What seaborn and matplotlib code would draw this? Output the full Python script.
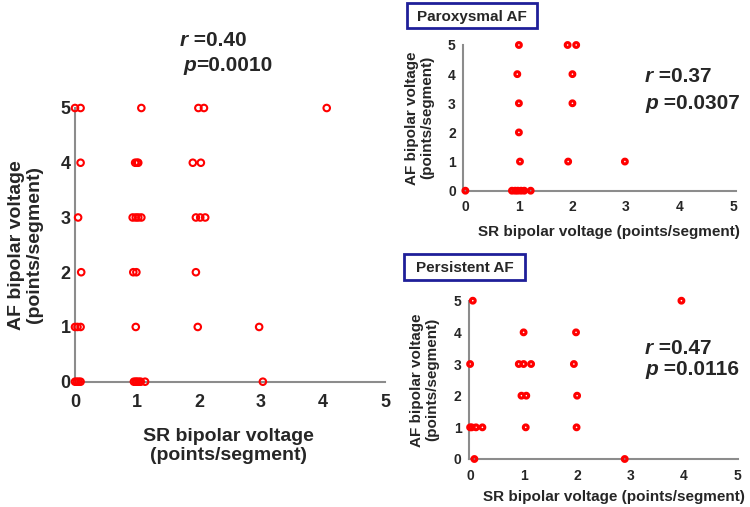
import numpy as np
import pandas as pd
import seaborn as sns
import matplotlib.pyplot as plt
from matplotlib.patches import Rectangle

# All AF patients
all_sr = [0.0, 0.09, 1.07, 1.99, 2.08, 4.06,
          0.09, 0.97, 1.0, 1.02, 1.9, 2.03,
          0.05, 0.93, 0.98, 1.02, 1.07, 1.95, 2.02, 2.1,
          0.1, 0.94, 0.99, 1.95,
          0.0, 0.04, 0.09, 0.98, 1.98, 2.97,
          0.0, 0.03, 0.06, 0.09, 0.95, 0.98, 1.0, 1.03, 1.06, 1.13, 3.03]
all_af = [5, 5, 5, 5, 5, 5,
          4, 4, 4, 4, 4, 4,
          3, 3, 3, 3, 3, 3, 3, 3,
          2, 2, 2, 2,
          1, 1, 1, 1, 1, 1,
          0, 0, 0, 0, 0, 0, 0, 0, 0, 0, 0]

# Paroxysmal AF
par_sr = [1.0, 1.91, 2.07,
          0.97, 2.0,
          1.0, 2.0,
          1.0,
          1.02, 1.92, 2.98,
          0.0, 0.87, 0.93, 0.98, 1.04, 1.1, 1.22]
par_af = [5, 5, 5,
          4, 4,
          3, 3,
          2,
          1, 1, 1,
          0, 0, 0, 0, 0, 0, 0]

# Persistent AF
per_sr = [0.05, 3.95,
          1.0, 1.98,
          0.0, 0.91, 1.0, 1.14, 1.94,
          0.96, 1.05, 2.0,
          0.0, 0.03, 0.11, 0.23, 1.04, 1.99,
          0.08, 2.89]
per_af = [5, 5,
          4, 4,
          3, 3, 3, 3, 3,
          2, 2, 2,
          1, 1, 1, 1, 1, 1,
          0, 0]

ticks = [0, 1, 2, 3, 4, 5]

sns.set_style("white")
plt.rcParams['font.family'] = ['Liberation Sans', 'DejaVu Sans']
plt.rcParams['font.weight'] = 'bold'

W, H = 750, 507
fig = plt.figure(figsize=(7.5, 5.07), dpi=100)


def px_axes(x0, x1, y_top, y_bot):
    return fig.add_axes([x0 / W, 1 - y_bot / H, (x1 - x0) / W, (y_bot - y_top) / H])


def draw(ax, sr, af, xlim, ms, ew, tsize):
    df = pd.DataFrame({'SR': sr, 'AF': af})
    sns.scatterplot(data=df, x='SR', y='AF', ax=ax, s=ms, marker='o',
                    facecolor='none', edgecolor='red', linewidth=ew,
                    clip_on=False, zorder=3)
    ax.set_xlim(*xlim)
    ax.set_ylim(0, 5)
    ax.set_xticks(ticks)
    ax.set_yticks(ticks)
    ax.tick_params(length=0, labelsize=tsize)
    for t in ax.get_xticklabels() + ax.get_yticklabels():
        t.set_fontweight('bold')
    for side in ['top', 'right']:
        ax.spines[side].set_visible(False)
    for side in ['left', 'bottom']:
        ax.spines[side].set_color('#8c8c8c')
        ax.spines[side].set_linewidth(1.5)
    ax.spines['bottom'].set_zorder(1)


def stat(x, y, letter, rest):
    t = fig.text(x / W, 1 - y / H, letter, fontsize=15, fontweight='bold',
                 fontstyle='italic', va='baseline')
    fig.add_artist(plt.Annotation(rest, xy=(1, 0), xycoords=t, fontsize=15,
                                  fontweight='bold', va='bottom'))


# main panel
ax1 = px_axes(75, 385, 108, 381.7)
draw(ax1, all_sr, all_af, (0, 5), 22, 1.5, 13)
ax1.tick_params(axis='x', pad=9)
ax1.tick_params(axis='y', pad=3)
ax1.set_xlabel('SR bipolar voltage\n(points/segment)', fontsize=14,
               fontweight='bold', linespacing=1.1)
ax1.xaxis.set_label_coords(0.495, -0.17)
ax1.set_ylabel('AF bipolar voltage\n(points/segment)', fontsize=14,
               fontweight='bold', linespacing=1.05)
ax1.yaxis.set_label_coords(-0.103, 0.5)
stat(180, 46, 'r', ' =0.40')
stat(183, 71, 'p', '=0.0010')

# paroxysmal panel
ax2 = px_axes(462.7, 735.7, 45, 190.7)
draw(ax2, par_sr, par_af, (-0.05, 5.05), 12, 2.2, 10)
ax2.tick_params(axis='x', pad=7)
ax2.tick_params(axis='y', pad=5)
ax2.set_xlabel('SR bipolar voltage (points/segment)', fontsize=11,
               fontweight='bold')
ax2.xaxis.set_label_coords(0.534, -0.235)
ax2.set_ylabel('AF bipolar voltage\n(points/segment)', fontsize=11,
               fontweight='bold', linespacing=1.1)
ax2.yaxis.set_label_coords(-0.105, 0.5)
stat(645, 82, 'r', ' =0.37')
stat(645, 109, 'p', ' =0.0307')

# persistent panel
ax3 = px_axes(468.5, 737.6, 300.7, 459)
draw(ax3, per_sr, per_af, (-0.03, 5.0), 12, 2.2, 10)
ax3.tick_params(axis='x', pad=7)
ax3.tick_params(axis='y', pad=5)
ax3.set_xlabel('SR bipolar voltage (points/segment)', fontsize=11,
               fontweight='bold')
ax3.xaxis.set_label_coords(0.54, -0.195)
ax3.set_ylabel('AF bipolar voltage\n(points/segment)', fontsize=11,
               fontweight='bold', linespacing=1.1)
ax3.yaxis.set_label_coords(-0.11, 0.5)
stat(645, 354, 'r', ' =0.47')
stat(645, 375, 'p', ' =0.0116')

# boxed group labels
for (x0, x1, y0, y1, label) in [(407, 537, 3, 28, 'Paroxysmal AF'),
                                 (404, 525, 254, 280, 'Persistent AF')]:
    fig.patches.append(Rectangle((x0 / W, 1 - y1 / H), (x1 - x0) / W,
                                 (y1 - y0) / H, transform=fig.transFigure,
                                 fill=False, edgecolor='#1f1f99', linewidth=2))
    fig.text((x0 + x1) / 2 / W, 1 - ((y0 + y1) / 2 + 1.5) / H, label,
             fontsize=11, fontweight='bold', ha='center', va='center')

fig.savefig('out.png', dpi=100)
